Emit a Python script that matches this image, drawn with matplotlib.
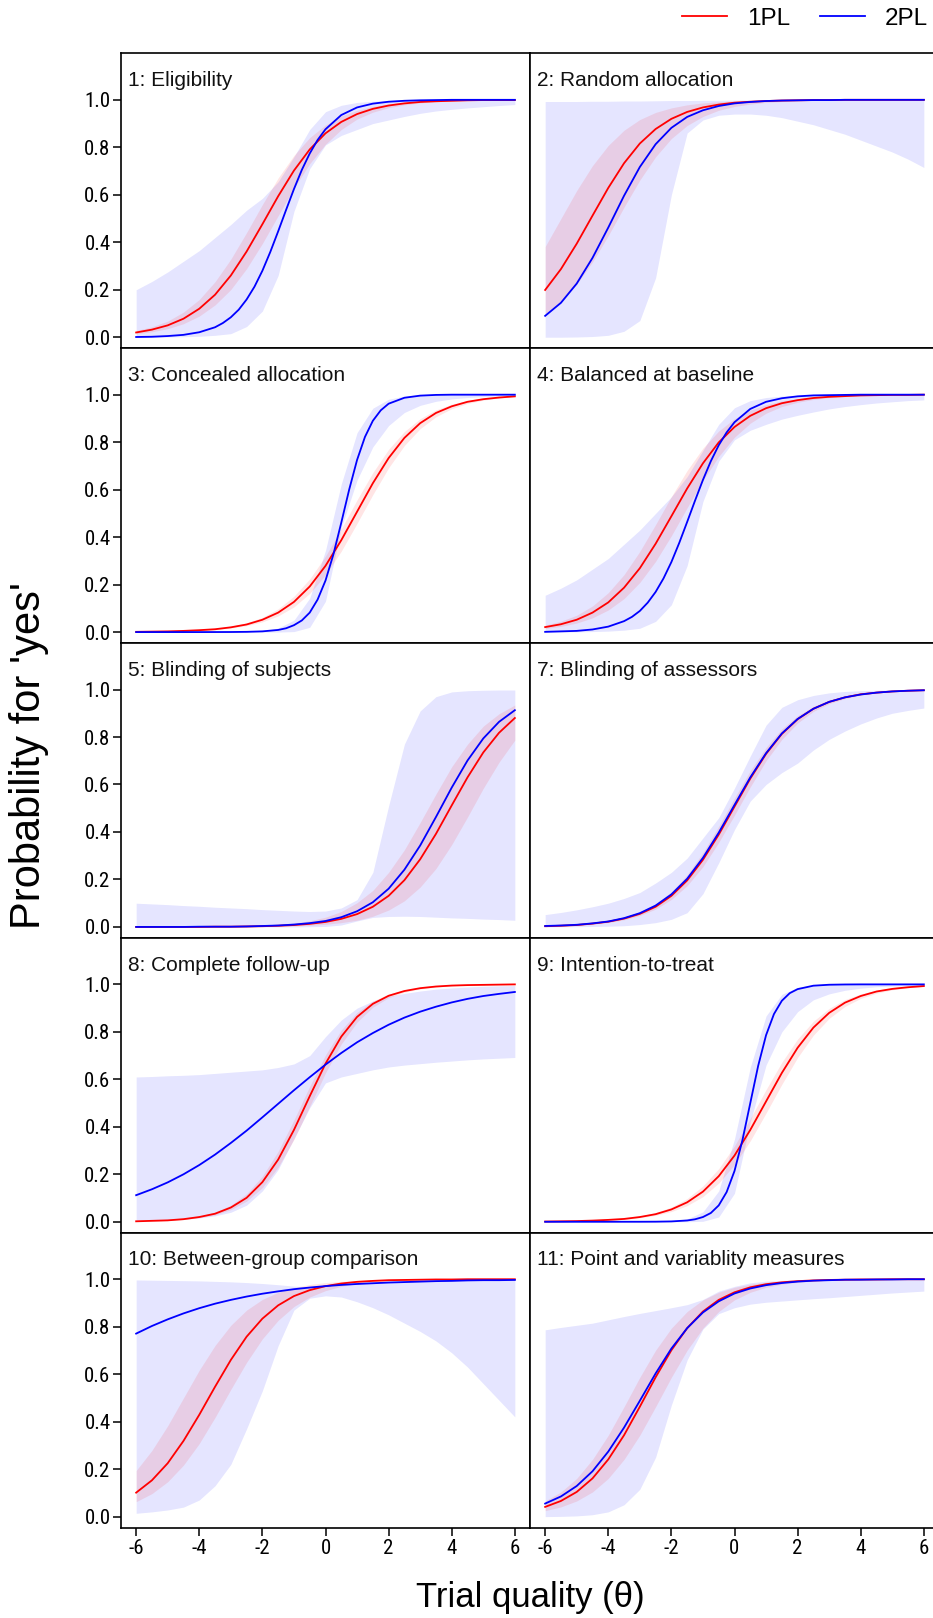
import matplotlib
matplotlib.use("Agg")
import matplotlib.pyplot as plt
from matplotlib import font_manager
from matplotlib.font_manager import FontProperties

# ---------------- data ----------------
theta = [-6, -5.5, -5, -4.5, -4, -3.5, -3, -2.5, -2, -1.5, -1, -0.5, 0,
         0.5, 1, 1.5, 2, 2.5, 3, 3.5, 4, 4.5, 5, 5.5, 6]
# denser theta grids used for the steep 2PL curves
theta_left = [-6, -5.5, -5, -4.5, -4, -3.5, -3.25, -3, -2.75, -2.5, -2.25, -2,
              -1.75, -1.5, -1.25, -1, -0.75, -0.5, -0.25, 0, 0.5, 1, 1.5, 2,
              2.5, 3, 4, 5, 6]
theta_mid = [-6, -5, -4, -3, -2.5, -2, -1.5, -1.25, -1, -0.75, -0.5, -0.25, 0,
             0.25, 0.5, 0.75, 1, 1.25, 1.5, 1.75, 2, 2.5, 3, 3.5, 4, 5, 6]

titles = ["1: Eligibility", "2: Random allocation", "3: Concealed allocation",
          "4: Balanced at baseline", "5: Blinding of subjects",
          "7: Blinding of assessors", "8: Complete follow-up",
          "9: Intention-to-treat", "10: Between-group comparison",
          "11: Point and variablity measures"]

x_ticks = [-6, -4, -2, 0, 2, 4, 6]
y_ticks = [0.0, 0.2, 0.4, 0.6, 0.8, 1.0]
series_names = ["1PL", "2PL"]

# item 1
i1_1pl = [0.020, 0.032, 0.050, 0.078, 0.120, 0.179, 0.260, 0.361, 0.476, 0.594, 0.702, 0.791, 0.859, 0.907, 0.940, 0.962, 0.976, 0.985, 0.991, 0.994, 0.996, 0.998, 0.999, 0.999, 0.999]
i1_1pl_hi = [0.028, 0.044, 0.068, 0.106, 0.159, 0.234, 0.329, 0.441, 0.559, 0.671, 0.766, 0.841, 0.894, 0.932, 0.956, 0.972, 0.983, 0.989, 0.993, 0.996, 0.997, 0.998, 0.999, 0.999, 1.000]
i1_1pl_lo = [0.014, 0.023, 0.036, 0.057, 0.089, 0.136, 0.201, 0.289, 0.395, 0.512, 0.628, 0.731, 0.813, 0.875, 0.919, 0.948, 0.967, 0.979, 0.987, 0.992, 0.995, 0.997, 0.998, 0.999, 0.999]
i1_2pl = [0.001, 0.002, 0.005, 0.010, 0.021, 0.042, 0.060, 0.084, 0.116, 0.159, 0.213, 0.280, 0.359, 0.446, 0.536, 0.624, 0.705, 0.774, 0.831, 0.876, 0.936, 0.968, 0.984, 0.992, 0.996, 0.998, 1.0, 1.0, 1.0]
i1_2pl_hi = [0.200, 0.235, 0.275, 0.320, 0.365, 0.420, 0.475, 0.535, 0.585, 0.655, 0.760, 0.875, 0.950, 0.977, 0.989, 0.994, 0.997, 0.998, 0.999, 0.999, 0.999, 0.999, 0.999, 0.999, 0.999]
i1_2pl_lo = [0.000, 0.000, 0.001, 0.002, 0.004, 0.008, 0.015, 0.045, 0.110, 0.260, 0.530, 0.710, 0.810, 0.850, 0.875, 0.900, 0.915, 0.930, 0.943, 0.953, 0.960, 0.966, 0.971, 0.976, 0.980]

# item 2
i2_1pl = [0.199, 0.287, 0.394, 0.512, 0.629, 0.733, 0.816, 0.877, 0.920, 0.949, 0.968, 0.980, 0.988, 0.992, 0.995, 0.997, 0.998, 0.999, 0.999, 1.0, 1.0, 1.0, 1.0, 1.0, 1.0]
i2_1pl_hi = [0.382, 0.500, 0.618, 0.723, 0.808, 0.872, 0.917, 0.947, 0.966, 0.979, 0.987, 0.992, 0.995, 0.997, 0.998, 0.999, 0.999, 0.999, 1.0, 1.0, 1.0, 1.0, 1.0, 1.0, 1.0]
i2_1pl_lo = [0.099, 0.151, 0.223, 0.317, 0.428, 0.548, 0.662, 0.760, 0.837, 0.892, 0.930, 0.956, 0.972, 0.982, 0.989, 0.993, 0.996, 0.997, 0.998, 0.999, 0.999, 0.999, 1.0, 1.0, 1.0]
i2_2pl = [0.090, 0.145, 0.226, 0.334, 0.462, 0.596, 0.717, 0.813, 0.882, 0.928, 0.956, 0.974, 0.985, 0.991, 0.995, 0.997, 0.998, 0.999, 0.999, 1.0, 1.0, 1.0, 1.0, 1.0, 1.0]
i2_2pl_hi = [0.993, 0.993, 0.993, 0.994, 0.994, 0.995, 0.995, 0.996, 0.997, 0.997, 0.998, 0.998, 0.999, 0.999, 0.999, 0.999, 0.999, 0.999, 0.999, 0.999, 0.999, 0.999, 0.999, 0.999, 0.999]
i2_2pl_lo = [0.000, 0.000, 0.001, 0.003, 0.008, 0.025, 0.070, 0.250, 0.600, 0.860, 0.915, 0.935, 0.940, 0.940, 0.935, 0.925, 0.910, 0.895, 0.875, 0.855, 0.830, 0.805, 0.780, 0.750, 0.715]

# item 3
i3_1pl = [0.001, 0.002, 0.003, 0.005, 0.008, 0.012, 0.020, 0.032, 0.052, 0.082, 0.127, 0.192, 0.279, 0.387, 0.507, 0.627, 0.733, 0.818, 0.880, 0.923, 0.951, 0.970, 0.981, 0.988, 0.993]
i3_1pl_hi = [0.001, 0.002, 0.004, 0.006, 0.009, 0.015, 0.024, 0.039, 0.062, 0.098, 0.151, 0.224, 0.320, 0.435, 0.557, 0.672, 0.770, 0.845, 0.899, 0.936, 0.960, 0.975, 0.984, 0.990, 0.994]
i3_1pl_lo = [0.001, 0.001, 0.002, 0.004, 0.006, 0.010, 0.017, 0.027, 0.043, 0.068, 0.106, 0.163, 0.241, 0.341, 0.458, 0.579, 0.692, 0.786, 0.857, 0.907, 0.941, 0.963, 0.977, 0.986, 0.991]
i3_2pl = [0.0, 0.0, 0.0, 0.0003, 0.001, 0.003, 0.009, 0.016, 0.029, 0.049, 0.082, 0.137, 0.217, 0.327, 0.461, 0.600, 0.725, 0.822, 0.890, 0.934, 0.962, 0.987, 0.996, 0.999, 1.0, 1.0, 1.0]
i3_2pl_hi = [0.0, 0.0, 0.0, 0.0, 0.0, 0.0, 0.001, 0.002, 0.005, 0.017, 0.050, 0.143, 0.344, 0.624, 0.840, 0.943, 0.981, 0.994, 0.998, 0.999, 1.0, 1.0, 1.0, 1.0, 1.0]
i3_2pl_lo = [0.0, 0.0, 0.0, 0.0, 0.0, 0.0, 0.0, 0.0, 0.0, 0.0, 0.002, 0.020, 0.130, 0.440, 0.640, 0.780, 0.870, 0.925, 0.955, 0.972, 0.982, 0.988, 0.992, 0.995, 0.997]

# item 4
i4_1pl = [0.021, 0.033, 0.052, 0.082, 0.125, 0.187, 0.269, 0.372, 0.488, 0.605, 0.711, 0.799, 0.864, 0.911, 0.943, 0.964, 0.977, 0.986, 0.991, 0.994, 0.997, 0.998, 0.999, 0.999, 1.0]
i4_1pl_hi = [0.029, 0.046, 0.071, 0.110, 0.166, 0.242, 0.340, 0.453, 0.571, 0.681, 0.775, 0.847, 0.899, 0.935, 0.958, 0.974, 0.983, 0.990, 0.994, 0.996, 0.998, 0.998, 0.999, 0.999, 1.0]
i4_1pl_lo = [0.015, 0.024, 0.038, 0.060, 0.093, 0.141, 0.209, 0.298, 0.406, 0.524, 0.639, 0.740, 0.821, 0.880, 0.922, 0.950, 0.968, 0.980, 0.988, 0.992, 0.995, 0.997, 0.998, 0.999, 0.999]
i4_2pl = [0.001, 0.003, 0.005, 0.011, 0.023, 0.046, 0.064, 0.089, 0.124, 0.169, 0.226, 0.295, 0.376, 0.464, 0.554, 0.641, 0.720, 0.787, 0.841, 0.884, 0.940, 0.970, 0.985, 0.993, 0.997, 0.998, 1.0, 1.0, 1.0]
i4_2pl_hi = [0.155, 0.185, 0.220, 0.265, 0.310, 0.370, 0.430, 0.500, 0.570, 0.655, 0.765, 0.875, 0.945, 0.975, 0.988, 0.994, 0.997, 0.998, 0.999, 0.999, 0.999, 0.999, 0.999, 0.999, 0.999]
i4_2pl_lo = [0.000, 0.000, 0.001, 0.002, 0.004, 0.008, 0.016, 0.045, 0.115, 0.280, 0.550, 0.720, 0.810, 0.850, 0.875, 0.897, 0.913, 0.927, 0.940, 0.950, 0.958, 0.965, 0.970, 0.975, 0.978]

# item 5
i5_1pl = [0.0, 0.0, 0.0, 0.0, 0.0, 0.001, 0.001, 0.002, 0.003, 0.005, 0.008, 0.013, 0.021, 0.034, 0.054, 0.085, 0.131, 0.197, 0.285, 0.392, 0.512, 0.630, 0.735, 0.818, 0.880]
i5_1pl_hi = [0.0, 0.0, 0.0, 0.001, 0.001, 0.001, 0.002, 0.004, 0.006, 0.010, 0.016, 0.026, 0.041, 0.065, 0.102, 0.154, 0.230, 0.325, 0.440, 0.560, 0.675, 0.770, 0.846, 0.898, 0.935]
i5_1pl_lo = [0.0, 0.0, 0.0, 0.0, 0.0, 0.0, 0.001, 0.001, 0.002, 0.003, 0.004, 0.007, 0.011, 0.018, 0.028, 0.045, 0.071, 0.110, 0.168, 0.246, 0.347, 0.463, 0.584, 0.694, 0.787]
i5_2pl = [0.0, 0.0, 0.0, 0.0, 0.001, 0.001, 0.001, 0.002, 0.004, 0.006, 0.010, 0.016, 0.025, 0.041, 0.066, 0.104, 0.161, 0.241, 0.343, 0.463, 0.587, 0.701, 0.794, 0.864, 0.913]
i5_2pl_hi = [0.100, 0.097, 0.094, 0.090, 0.087, 0.083, 0.080, 0.077, 0.073, 0.070, 0.067, 0.065, 0.067, 0.080, 0.115, 0.230, 0.510, 0.770, 0.910, 0.970, 0.990, 0.995, 0.997, 0.998, 0.998]
i5_2pl_lo = [0.0, 0.0, 0.0, 0.0, 0.0, 0.0, 0.0, 0.0, 0.0, 0.0, 0.0, 0.001, 0.002, 0.008, 0.025, 0.040, 0.044, 0.045, 0.044, 0.041, 0.038, 0.036, 0.033, 0.031, 0.028]

# item 7
i7_1pl = [0.003, 0.005, 0.008, 0.014, 0.022, 0.035, 0.055, 0.085, 0.131, 0.196, 0.283, 0.389, 0.507, 0.625, 0.729, 0.813, 0.875, 0.919, 0.948, 0.967, 0.980, 0.987, 0.992, 0.995, 0.997]
i7_1pl_hi = [0.004, 0.006, 0.010, 0.016, 0.025, 0.040, 0.063, 0.097, 0.148, 0.220, 0.313, 0.424, 0.543, 0.658, 0.756, 0.834, 0.890, 0.929, 0.955, 0.972, 0.982, 0.989, 0.993, 0.996, 0.997]
i7_1pl_lo = [0.003, 0.005, 0.007, 0.012, 0.019, 0.030, 0.048, 0.075, 0.116, 0.174, 0.254, 0.356, 0.471, 0.590, 0.700, 0.790, 0.859, 0.908, 0.941, 0.962, 0.977, 0.985, 0.991, 0.994, 0.997]
i7_2pl = [0.004, 0.006, 0.009, 0.015, 0.023, 0.037, 0.058, 0.090, 0.137, 0.203, 0.291, 0.397, 0.514, 0.630, 0.732, 0.815, 0.876, 0.919, 0.948, 0.967, 0.979, 0.987, 0.992, 0.995, 0.997]
i7_2pl_hi = [0.052, 0.061, 0.072, 0.085, 0.100, 0.120, 0.145, 0.185, 0.230, 0.290, 0.375, 0.460, 0.585, 0.720, 0.850, 0.925, 0.957, 0.975, 0.986, 0.992, 0.995, 0.997, 0.998, 0.999, 0.999]
i7_2pl_lo = [0.000, 0.001, 0.001, 0.002, 0.003, 0.005, 0.010, 0.018, 0.032, 0.060, 0.140, 0.270, 0.410, 0.530, 0.600, 0.650, 0.690, 0.745, 0.790, 0.825, 0.855, 0.880, 0.900, 0.912, 0.922]

# item 8
i8_1pl = [0.002, 0.004, 0.006, 0.011, 0.020, 0.034, 0.060, 0.101, 0.167, 0.262, 0.387, 0.529, 0.666, 0.780, 0.863, 0.918, 0.952, 0.972, 0.984, 0.991, 0.995, 0.997, 0.998, 0.999, 1.0]
i8_1pl_hi = [0.002, 0.004, 0.008, 0.013, 0.023, 0.041, 0.070, 0.118, 0.192, 0.297, 0.429, 0.571, 0.703, 0.808, 0.882, 0.930, 0.959, 0.977, 0.987, 0.993, 0.996, 0.998, 0.999, 0.999, 1.0]
i8_1pl_lo = [0.002, 0.003, 0.005, 0.009, 0.017, 0.029, 0.051, 0.087, 0.144, 0.230, 0.347, 0.486, 0.627, 0.749, 0.841, 0.904, 0.944, 0.967, 0.981, 0.989, 0.994, 0.997, 0.998, 0.999, 0.999]
i8_2pl = [0.112, 0.137, 0.166, 0.200, 0.239, 0.283, 0.332, 0.384, 0.440, 0.497, 0.554, 0.609, 0.662, 0.711, 0.756, 0.795, 0.830, 0.860, 0.885, 0.906, 0.924, 0.939, 0.951, 0.960, 0.968]
i8_2pl_hi = [0.610, 0.612, 0.615, 0.617, 0.620, 0.625, 0.630, 0.635, 0.640, 0.650, 0.665, 0.700, 0.780, 0.850, 0.900, 0.930, 0.950, 0.962, 0.972, 0.980, 0.985, 0.989, 0.992, 0.994, 0.995]
i8_2pl_lo = [0.005, 0.006, 0.008, 0.011, 0.016, 0.025, 0.040, 0.070, 0.130, 0.220, 0.350, 0.480, 0.585, 0.610, 0.625, 0.640, 0.652, 0.660, 0.666, 0.672, 0.677, 0.682, 0.686, 0.689, 0.692]

# item 9
i9_1pl = [0.001, 0.002, 0.003, 0.005, 0.008, 0.012, 0.020, 0.032, 0.052, 0.082, 0.127, 0.192, 0.279, 0.387, 0.507, 0.627, 0.733, 0.818, 0.880, 0.923, 0.951, 0.970, 0.981, 0.988, 0.993]
i9_1pl_hi = [0.001, 0.002, 0.004, 0.006, 0.009, 0.015, 0.024, 0.039, 0.062, 0.098, 0.151, 0.224, 0.320, 0.435, 0.557, 0.672, 0.770, 0.845, 0.899, 0.936, 0.960, 0.975, 0.984, 0.990, 0.994]
i9_1pl_lo = [0.001, 0.001, 0.002, 0.004, 0.006, 0.010, 0.017, 0.027, 0.043, 0.068, 0.106, 0.163, 0.241, 0.341, 0.458, 0.579, 0.692, 0.786, 0.857, 0.907, 0.941, 0.963, 0.977, 0.986, 0.991]
i9_2pl = [0.0, 0.0, 0.0, 0.0001, 0.0004, 0.0015, 0.0055, 0.0105, 0.020, 0.037, 0.069, 0.125, 0.214, 0.343, 0.500, 0.657, 0.786, 0.875, 0.931, 0.963, 0.980, 0.9945, 0.9985, 0.9996, 1.0, 1.0, 1.0]
i9_2pl_hi = [0.0, 0.0, 0.0, 0.0, 0.0, 0.0, 0.0, 0.001, 0.004, 0.012, 0.042, 0.130, 0.349, 0.651, 0.867, 0.958, 0.988, 0.996, 0.999, 1.0, 1.0, 1.0, 1.0, 1.0, 1.0]
i9_2pl_lo = [0.0, 0.0, 0.0, 0.0, 0.0, 0.0, 0.0, 0.0, 0.0, 0.0, 0.002, 0.020, 0.120, 0.420, 0.660, 0.800, 0.885, 0.935, 0.960, 0.975, 0.984, 0.990, 0.993, 0.995, 0.997]

# item 10
i10_1pl = [0.101, 0.153, 0.225, 0.319, 0.429, 0.547, 0.660, 0.758, 0.834, 0.890, 0.929, 0.954, 0.971, 0.982, 0.989, 0.993, 0.996, 0.997, 0.998, 0.999, 0.999, 1.0, 1.0, 1.0, 1.0]
i10_1pl_hi = [0.194, 0.279, 0.383, 0.500, 0.617, 0.721, 0.806, 0.870, 0.915, 0.945, 0.965, 0.978, 0.986, 0.991, 0.995, 0.997, 0.998, 0.999, 0.999, 0.999, 1.0, 1.0, 1.0, 1.0, 1.0]
i10_1pl_lo = [0.063, 0.097, 0.147, 0.217, 0.308, 0.418, 0.536, 0.650, 0.749, 0.827, 0.885, 0.925, 0.952, 0.970, 0.981, 0.988, 0.993, 0.995, 0.997, 0.998, 0.999, 0.999, 1.0, 1.0, 1.0]
i10_2pl = [0.771, 0.803, 0.831, 0.856, 0.878, 0.897, 0.913, 0.927, 0.939, 0.949, 0.958, 0.965, 0.971, 0.976, 0.980, 0.983, 0.986, 0.988, 0.990, 0.992, 0.993, 0.995, 0.996, 0.996, 0.997]
i10_2pl_hi = [0.997, 0.996, 0.995, 0.994, 0.993, 0.991, 0.989, 0.986, 0.982, 0.977, 0.971, 0.968, 0.973, 0.979, 0.984, 0.988, 0.991, 0.993, 0.994, 0.995, 0.996, 0.997, 0.997, 0.998, 0.998]
i10_2pl_lo = [0.014, 0.020, 0.028, 0.040, 0.070, 0.130, 0.220, 0.370, 0.530, 0.720, 0.870, 0.920, 0.930, 0.925, 0.905, 0.880, 0.850, 0.815, 0.780, 0.740, 0.690, 0.630, 0.560, 0.490, 0.420]

# item 11
i11_1pl = [0.041, 0.066, 0.104, 0.161, 0.241, 0.343, 0.463, 0.587, 0.701, 0.794, 0.864, 0.913, 0.945, 0.966, 0.979, 0.987, 0.992, 0.995, 0.997, 0.998, 0.999, 0.999, 1.0, 1.0, 1.0]
i11_1pl_hi = [0.066, 0.104, 0.161, 0.241, 0.343, 0.463, 0.587, 0.701, 0.794, 0.864, 0.913, 0.945, 0.966, 0.979, 0.987, 0.992, 0.995, 0.997, 0.998, 0.999, 0.999, 1.0, 1.0, 1.0, 1.0]
i11_1pl_lo = [0.025, 0.041, 0.066, 0.104, 0.161, 0.241, 0.343, 0.463, 0.587, 0.701, 0.794, 0.864, 0.913, 0.945, 0.966, 0.979, 0.987, 0.992, 0.995, 0.997, 0.998, 0.999, 0.999, 1.0, 1.0]
i11_2pl = [0.055, 0.085, 0.129, 0.191, 0.274, 0.375, 0.488, 0.603, 0.708, 0.794, 0.860, 0.907, 0.940, 0.961, 0.975, 0.984, 0.990, 0.994, 0.996, 0.998, 0.998, 0.999, 0.999, 1.0, 1.0]
i11_2pl_hi = [0.787, 0.797, 0.806, 0.815, 0.829, 0.843, 0.856, 0.868, 0.880, 0.893, 0.915, 0.950, 0.970, 0.985, 0.992, 0.995, 0.997, 0.998, 0.999, 0.999, 0.999, 0.999, 0.999, 0.999, 0.999]
i11_2pl_lo = [0.000, 0.001, 0.003, 0.008, 0.020, 0.050, 0.115, 0.250, 0.470, 0.660, 0.790, 0.855, 0.880, 0.895, 0.903, 0.908, 0.913, 0.918, 0.922, 0.927, 0.932, 0.937, 0.942, 0.946, 0.950]

# (2PL line theta grid, 1PL, 1PL lo, 1PL hi, 2PL, 2PL lo, 2PL hi)
panels = [
    (theta_left, i1_1pl, i1_1pl_lo, i1_1pl_hi, i1_2pl, i1_2pl_lo, i1_2pl_hi),
    (theta, i2_1pl, i2_1pl_lo, i2_1pl_hi, i2_2pl, i2_2pl_lo, i2_2pl_hi),
    (theta_mid, i3_1pl, i3_1pl_lo, i3_1pl_hi, i3_2pl, i3_2pl_lo, i3_2pl_hi),
    (theta_left, i4_1pl, i4_1pl_lo, i4_1pl_hi, i4_2pl, i4_2pl_lo, i4_2pl_hi),
    (theta, i5_1pl, i5_1pl_lo, i5_1pl_hi, i5_2pl, i5_2pl_lo, i5_2pl_hi),
    (theta, i7_1pl, i7_1pl_lo, i7_1pl_hi, i7_2pl, i7_2pl_lo, i7_2pl_hi),
    (theta, i8_1pl, i8_1pl_lo, i8_1pl_hi, i8_2pl, i8_2pl_lo, i8_2pl_hi),
    (theta_mid, i9_1pl, i9_1pl_lo, i9_1pl_hi, i9_2pl, i9_2pl_lo, i9_2pl_hi),
    (theta, i10_1pl, i10_1pl_lo, i10_1pl_hi, i10_2pl, i10_2pl_lo, i10_2pl_hi),
    (theta, i11_1pl, i11_1pl_lo, i11_1pl_hi, i11_2pl, i11_2pl_lo, i11_2pl_hi),
]

# ---------------- style ----------------
ttf = font_manager.fontManager.ttflist
names = {f.name for f in ttf}
base_font = "Liberation Sans" if "Liberation Sans" in names else "DejaVu Sans"
plt.rcParams["font.family"] = [base_font, "DejaVu Sans"]


def _is_regular(f):
    return f.style == "normal" and f.weight in (400, "normal", "regular", "book")


narrow_path = None
for pref in ("Liberation Sans Narrow", "Arial Narrow", "Roboto Condensed"):
    for f in ttf:
        if f.name == pref and _is_regular(f):
            narrow_path = f.fname
            break
    if narrow_path:
        break
if narrow_path is None:
    for f in ttf:
        if _is_regular(f) and ("Condensed" in f.name or "Narrow" in f.name
                               or f.stretch in ("condensed", "semi-condensed")):
            narrow_path = f.fname
            break

if narrow_path:
    tick_font = FontProperties(fname=narrow_path, size=15)
else:
    tick_font = FontProperties(family=base_font, size=14)

RED = "#FF0000"
BLUE = "#0000FF"

W, H = 933, 1618
fig = plt.figure(figsize=(W / 100, H / 100), dpi=100)

col_left = [121, 530]
col_w = 409
row_top0 = 53.3
row_h = 294.85

line_handles = None
for k, (th2, p1, lo1, hi1, p2, lo2, hi2) in enumerate(panels):
    r, c = divmod(k, 2)
    top = row_top0 + r * row_h
    ax = fig.add_axes([col_left[c] / W, 1 - (top + row_h) / H, col_w / W, row_h / H])
    ax.fill_between(theta, lo2, hi2, color=BLUE, alpha=0.10, lw=0)
    ax.fill_between(theta, lo1, hi1, color=RED, alpha=0.10, lw=0)
    l1, = ax.plot(theta, p1, color=RED, lw=1.3)
    l2, = ax.plot(th2, p2, color=BLUE, lw=1.3)
    if line_handles is None:
        line_handles = [l1, l2]
    ax.set_xlim(-6.48, 6.48)
    ax.set_ylim(-0.046, 1.196)
    for s in ax.spines.values():
        s.set_linewidth(1.2)
        s.set_color("black")
    ax.text(-6.25, 1.058, titles[k], fontsize=15, ha="left", va="baseline",
            color="#111111")
    ax.set_xticks(x_ticks)
    ax.set_yticks(y_ticks)
    ax.tick_params(direction="out", length=5.5, width=1.1, color="black")
    ax.tick_params(axis="y", pad=2)
    ax.tick_params(axis="x", pad=3)
    ax.set_yticklabels([f"{v:.1f}" for v in y_ticks])
    ax.set_xticklabels([str(v) for v in x_ticks])
    for lbl in ax.get_xticklabels() + ax.get_yticklabels():
        lbl.set_fontproperties(tick_font)
    if c == 1:
        ax.tick_params(axis="y", left=False, labelleft=False)
    if r < 4:
        ax.tick_params(axis="x", bottom=False, labelbottom=False)

fig.text(29 / W, 1 - 756 / H, "Probability for 'yes'", rotation=90,
         ha="center", va="center", fontsize=30)
fig.text(530 / W, 1 - 1597 / H, "Trial quality (\u03b8)", ha="center",
         va="center", fontsize=25)

fig.legend(line_handles, series_names, loc="center left",
           bbox_to_anchor=(681.7 / W, 1 - 19 / H), ncol=2, frameon=False,
           fontsize=17.5, handlelength=1.85, handletextpad=0.85,
           columnspacing=1.2, borderpad=0, borderaxespad=0)

fig.savefig("out.png", dpi=100)
